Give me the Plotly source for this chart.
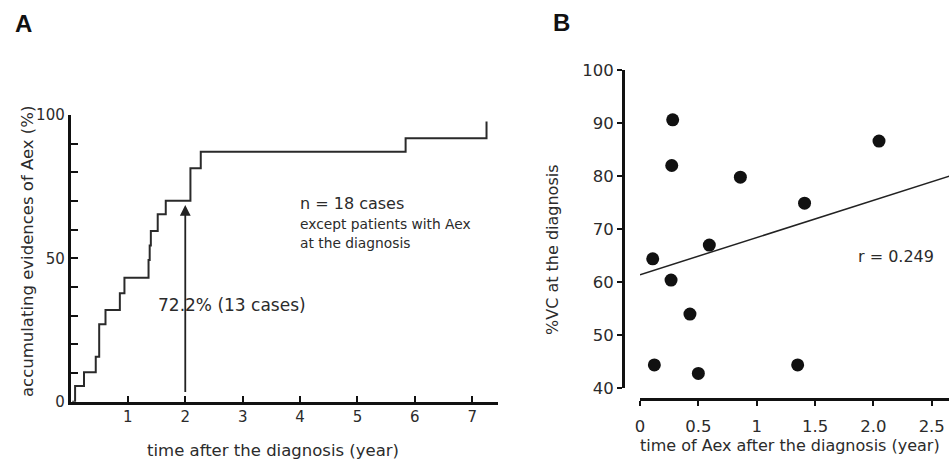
import plotly.graph_objects as go

# ---------------- data ----------------
# Panel A: cumulative incidence of Aex (step curve)
step_years = [0.03, 0.08, 0.235, 0.44, 0.50, 0.61, 0.86, 0.94, 1.36, 1.38, 1.40, 1.52, 1.66, 2.09, 2.27, 5.84, 7.25]
step_pct = [0.0, 5.5, 10.3, 15.7, 27.0, 32.0, 37.8, 43.2, 49.4, 54.5, 59.5, 65.4, 70.1, 81.4, 87.2, 91.9, 97.7]
a_xticks = [1, 2, 3, 4, 5, 6, 7]
a_yticks = [0, 10, 20, 30, 40, 50, 60, 70, 80, 90, 100]
a_yticktext = ["0", "", "", "", "", "50", "", "", "", "", "100"]
arrow_year = 2.0
arrow_from_pct = 2.9
arrow_to_pct = 68.6

# Panel B: %VC vs time of Aex
aex_time = [0.109, 0.28, 0.272, 0.266, 0.428, 0.594, 0.86, 1.41, 2.048, 0.123, 0.50, 1.351]
vc_pct = [64.4, 90.6, 82.0, 60.4, 54.0, 67.0, 79.8, 74.9, 86.6, 44.4, 42.8, 44.4]
fit_x = [0.0, 2.65]
fit_y = [61.4, 80.0]
b_xticks = [0, 0.5, 1, 1.5, 2, 2.5]
b_xticktext = ["0", "0.5", "1", "1.5", "2.0", "2.5"]
b_yticks = [40, 50, 60, 70, 80, 90, 100]

# ---------------- layout helpers ----------------
W, H = 949, 464
FONT = "DejaVu Sans"
TXT = "#2b2b2b"
LINE = "#111111"
B_XRANGE = [0, 309 / 116.7]


def px(x):
    return x / W


def py(y):
    return 1 - y / H


fig = go.Figure()

fig.add_trace(go.Scatter(
    x=step_years, y=step_pct, mode="lines",
    line=dict(shape="hv", color="#2a2a2a", width=2),
    xaxis="x", yaxis="y", showlegend=False, hoverinfo="skip"))

fig.add_trace(go.Scatter(
    x=fit_x, y=fit_y, mode="lines",
    line=dict(color="#222222", width=1.5),
    xaxis="x2", yaxis="y2", showlegend=False, hoverinfo="skip"))

fig.add_trace(go.Scatter(
    x=aex_time, y=vc_pct, mode="markers",
    marker=dict(size=13, color="#111111"),
    xaxis="x2", yaxis="y2", showlegend=False))

# invisible carrier so the label-only axis x3 is drawn
fig.add_trace(go.Scatter(
    x=fit_x, y=fit_y, mode="lines", opacity=0,
    line=dict(width=0, color="rgba(0,0,0,0)"),
    xaxis="x3", yaxis="y2", showlegend=False, hoverinfo="skip"))

tickfont = dict(family=FONT, size=15, color=TXT)

fig.update_layout(
    width=W, height=H,
    margin=dict(l=0, r=0, t=0, b=0, autoexpand=False),
    paper_bgcolor="white", plot_bgcolor="white",
    showlegend=False,
    xaxis=dict(
        domain=[px(70.5), px(498)], range=[0, 7.45], anchor="y", automargin=False,
        tickmode="array", tickvals=a_xticks,
        ticks="inside", ticklen=6, tickwidth=2, tickcolor=LINE,
        showline=True, linewidth=2.5, linecolor=LINE,
        showgrid=False, zeroline=False, tickfont=tickfont),
    yaxis=dict(
        domain=[py(401.7), py(115)], range=[0, 100], anchor="x", automargin=False,
        tickmode="array", tickvals=a_yticks, ticktext=a_yticktext,
        ticks="inside", ticklen=8, tickwidth=1.5, tickcolor=LINE,
        showline=True, linewidth=2.5, linecolor=LINE,
        showgrid=False, zeroline=False, tickfont=tickfont),
    xaxis2=dict(
        domain=[px(640), 1.0], range=B_XRANGE, anchor="free", position=py(399),
        automargin=False,
        tickmode="array", tickvals=b_xticks, showticklabels=False,
        ticks="outside", ticklen=5, tickwidth=1.5, tickcolor=LINE,
        showline=True, linewidth=2.5, linecolor=LINE,
        showgrid=False, zeroline=False),
    # label-only axis overlaying x2, placed a little lower like the reference
    xaxis3=dict(
        domain=[px(640), 1.0], range=B_XRANGE, anchor="free", position=py(414),
        overlaying="x2", automargin=False,
        tickmode="array", tickvals=b_xticks, ticktext=b_xticktext,
        ticks="", showline=False, showgrid=False, zeroline=False,
        tickfont=dict(family=FONT, size=16.5, color=TXT)),
    yaxis2=dict(
        domain=[py(388.3), py(70)], range=[40, 100], anchor="free", position=px(622.7),
        automargin=False,
        tickmode="array", tickvals=b_yticks,
        ticks="outside", ticklen=5, tickwidth=1.5, tickcolor=LINE,
        showline=True, linewidth=2.5, linecolor=LINE,
        showgrid=False, zeroline=False,
        tickfont=dict(family=FONT, size=16.5, color=TXT)),
)

ann = []


def text(x, y, s, size, anchor="center", angle=0, bold=False, color=TXT):
    ann.append(dict(
        x=px(x), y=py(y), xref="paper", yref="paper", text=s, showarrow=False,
        xanchor=anchor, yanchor="middle", textangle=angle,
        font=dict(family="Liberation Sans" if bold else FONT, size=size, color=color)))


text(23, 24, "<b>A</b>", 24, bold=True, color="#111")
text(561, 23, "<b>B</b>", 24, bold=True, color="#111")
text(27, 252, "accumulating evidences of Aex (%)", 16.5, angle=-90)
text(273, 450, "time after the diagnosis (year)", 16.5)
text(298, 203, "n = 18 cases", 16, anchor="left")
text(298, 224, "except patients with Aex", 13.8, anchor="left")
text(298, 243, "at the diagnosis", 13.8, anchor="left")
text(232, 305, "72.2% (13 cases)", 17)
text(552, 250, "%VC at the diagnosis", 16, angle=-90)
text(638, 445, "time of Aex after the diagnosis (year)", 16, anchor="left")
text(896, 256, "r = 0.249", 16)

ann.append(dict(
    x=arrow_year, y=arrow_to_pct, xref="x", yref="y",
    ax=arrow_year, ay=arrow_from_pct, axref="x", ayref="y",
    text="", showarrow=True, arrowhead=2, arrowsize=1.2, arrowwidth=1.8,
    arrowcolor="#222"))

fig.update_layout(annotations=ann)

fig.write_html(
    "out.html",
    config={"displayModeBar": False},
    post_script="document.body.style.margin='0';document.body.style.overflow='hidden';",
)
